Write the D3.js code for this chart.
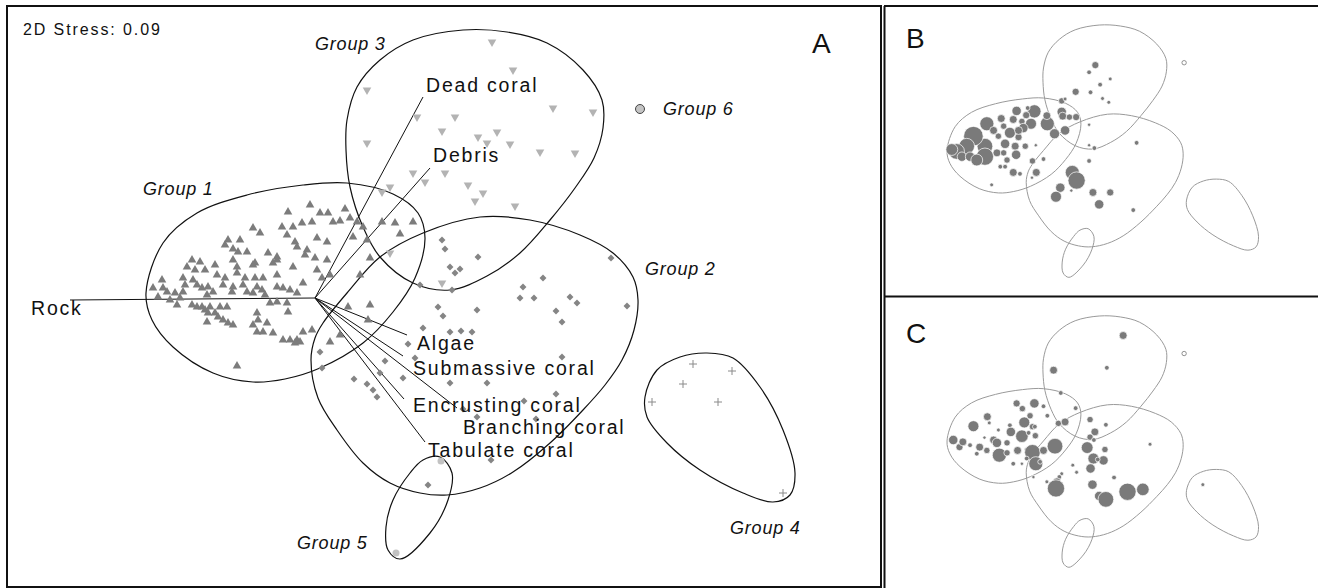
<!DOCTYPE html>
<html>
<head>
<meta charset="utf-8">
<script src="https://cdn.jsdelivr.net/npm/d3@7"></script>
<style>
  body { margin: 0; background: #fff; }
  text { font-family: Arial, "Liberation Sans", sans-serif; }
</style>
</head>
<body>
<svg id="chart" width="1318" height="588"></svg>
<script>
// NMDS ordination, axis units x100, origin = centre of the vector plot

// Group 1 samples (triangles)
const group1 = [[-5,93],[-27,86],[5,85],[13,85],[30,89],[18,76],[25,77],[35,80],[42,76],[-13,75],[-3,76],[-33,71],[-22,71],[-62,70],[-55,65],[48,71],[67,76],[80,75],[98,76],[85,64],[-28,63],[2,60],[12,56],[-20,56],[-18,51],[-8,48],[-87,58],[-75,58],[-90,53],[-82,49],[-77,46],[-68,46],[-47,45],[-38,41],[-38,38],[0,40],[12,38],[38,61],[52,58],[55,40],[45,23],[-123,38],[-115,36],[-128,31],[-100,33],[-82,38],[-78,31],[-62,33],[-60,35],[-42,35],[-22,31],[-10,43],[2,28],[15,23],[-120,28],[-110,28],[-132,20],[-122,18],[-98,23],[-90,20],[-78,25],[-70,20],[-60,20],[-52,20],[-38,23],[-12,15],[7,20],[-153,18],[-162,10],[-152,10],[-148,6],[-140,5],[-132,6],[-130,13],[-118,13],[-113,10],[-107,11],[-102,6],[-92,13],[-82,11],[-72,13],[-58,11],[-53,8],[-38,11],[-32,10],[-25,8],[-18,5],[-145,-2],[-138,-7],[-135,0],[-157,1],[-108,3],[-83,6],[-68,6],[-62,5],[-50,3],[-123,-7],[-118,-9],[-113,-9],[-110,-12],[-105,-9],[-95,-9],[-88,-9],[-45,-5],[-38,-4],[-28,-5],[-27,-14],[-107,-15],[-100,-15],[-97,-19],[-58,-15],[-57,-22],[-48,-25],[-108,-24],[-92,-22],[-87,-25],[-82,-27],[-62,-27],[-58,-34],[-52,-34],[-42,-35],[-12,-34],[-32,-42],[-25,-42],[-18,-42],[-15,-44],[-20,-45],[-3,-32],[-78,-68],[15,-44],[25,-37],[33,-9],[55,-7],[53,-22]];

// Group 2 samples (diamonds)
const group2 = [[127,58],[130,49],[163,41],[135,31],[140,25],[145,29],[105,13],[137,8],[208,11],[228,20],[205,0],[219,0],[255,1],[262,-5],[241,-13],[247,-24],[296,40],[312,-8],[123,-9],[128,-18],[162,-12],[108,-30],[135,-34],[146,-33],[157,-34],[93,-46],[70,-63],[100,-60],[247,-59],[88,-80],[135,-85],[172,-85],[241,-96],[5,-54],[7,-70],[39,-81],[52,-86],[58,-92],[62,-99],[65,-75],[209,-103],[148,-111],[162,-119],[221,-121],[176,-162],[113,-187]];

// Group 3 samples (inverted triangles)
const group3 = [[177,256],[198,228],[52,208],[102,181],[140,181],[238,190],[278,186],[127,167],[163,161],[182,166],[172,155],[195,154],[225,146],[260,145],[52,155],[98,125],[130,125],[110,116],[153,113],[168,105],[160,97],[200,92],[75,111],[67,106],[75,45],[127,15]];

// Group 4 (crosses), Group 5 (circles), Group 6 (single sample)
const group4 = [[378,-66],[417,-73],[368,-86],[337,-104],[403,-104],[468,-195]];
const group5 = [[126,-163],[81,-255]];
const group6 = [[325,189]];

// cluster contours
const contour1 = [[-169,5],[-163,-22],[-142,-49],[-102,-75],[-62,-84],[-30,-81],[5,-70],[48,-45],[78,-14],[100,20],[110,60],[103,85],[78,104],[32,115],[-12,113],[-68,103],[-118,85],[-152,55]];
const contour2 = [[165,81],[215,78],[265,63],[298,45],[318,21],[323,-2],[319,-32],[307,-62],[290,-87],[268,-112],[235,-145],[198,-174],[165,-190],[132,-197],[105,-195],[75,-185],[48,-165],[22,-132],[3,-100],[-4,-62],[0,-40],[8,-25],[32,5],[65,41],[108,65]];
const contour3 = [[148,268],[98,258],[65,238],[42,211],[32,178],[31,148],[35,111],[48,71],[65,41],[98,15],[135,8],[172,22],[205,45],[235,78],[260,110],[279,140],[288,170],[287,198],[268,228],[232,255],[192,266]];
const contour4 = [[392,-55],[418,-60],[445,-89],[468,-132],[480,-175],[475,-197],[458,-204],[428,-195],[385,-172],[352,-145],[332,-119],[330,-99],[342,-72],[365,-59]];
const contour5 = [[125,-159],[137,-175],[133,-202],[115,-235],[85,-261],[73,-252],[71,-229],[78,-202],[95,-175],[108,-162]];

// group label anchors
const groupLabels = ["Group 1", "Group 2", "Group 3", "Group 4", "Group 5", "Group 6"];
const groupLabelXY = [[-172,103],[330,23],[0,248],[415,-236],[-18,-251],[348,183]];

// substrate vectors
const vectorNames = ["Rock", "Dead coral", "Debris", "Algae", "Submassive coral", "Encrusting coral", "Branching coral", "Tabulate coral"];
const vectorXY = [[-245,-2],[108,201],[115,130],[92,-37],[88,-58],[89,-101],[142,-110],[110,-144]];

// bubble overlays: [x, y, % cover]
const bubblesB = [[140,184,14],[127,169,6],[171,155,4],[150,143,6],[99,128,14],[130,127,6],[155,114,4],[168,106,4],[70,109,11],[77,113,4],
  [13,87,48],[-1,94,6],[-24,88,24],[-4,79,14],[40,61,54],[6,61,33],[39,78,17],[70,86,24],[72,77,17],[86,75,11],[100,75,14],[55,40,28],[77,47,24],
  [-56,72,17],[-31,70,17],[-13,66,11],[-10,52,24],[-38,42,33],[-20,33,14],[-20,47,17],[-51,56,11],[-86,61,54],[-72,47,17],[-62,35,11],[-48,19,24],
  [-27,14,17],[-6,14,11],[-90,14,67],[-90,-8,81],[-114,35,104],[-128,14,67],[-149,3,67],[-159,7,38],[-138,-8,24],[-121,-8,24],[-107,-15,38],
  [-65,0,17],[-51,0,11],[-44,-15,11],[-25,-4,24],[-58,-29,6],[-48,-29,6],[-31,-41,17],[-17,-44,6],[-76,-67,4],[16,16,3],[9,-17,11],[32,-13,6],
  [17,-41,17],[8,-52,3],[127,59,3],[127,16,3],[138,10,6],[226,21,6],[127,-17,6],[92,-41,54],[101,-58,81],[90,-79,3],[67,-73,24],[58,-92,33],
  [135,-83,17],[171,-83,14],[148,-108,24],[219,-120,6]];
const bubblesC = [[198,227,17],[53,154,17],[164,159,6],[68,106,6],[99,74,6],
  [-24,84,14],[13,84,24],[-12,73,11],[32,78,6],[-85,56,17],[4,58,11],[40,58,6],[-81,43,4],[-114,36,33],[-8,44,33],[-38,38,6],[9,35,11],[14,35,6],
  [-62,28,4],[-36,24,24],[-13,15,43],[1,22,6],[15,16,11],[-91,12,3],[-72,7,17],[-65,1,24],[-44,1,11],[-156,7,24],[-143,-8,14],[-136,3,17],
  [-121,-4,6],[-101,-8,17],[-86,-15,11],[-107,-22,6],[-60,-25,54],[-44,-20,11],[-22,-15,17],[-3,-13,6],[9,-19,67],[32,-15,17],[56,-6,67],
  [-31,-43,6],[-13,-43,3],[-3,-32,6],[16,-43,54],[25,-39,6],[11,-71,3],
  [63,42,11],[77,45,17],[129,50,11],[162,39,6],[139,24,17],[129,13,11],[137,7,6],[123,-9,38],[160,-13,11],[136,-32,33],[157,-36,24],[145,-34,6],
  [130,-53,24],[93,-46,4],[101,-61,4],[70,-64,4],[65,-71,6],[39,-81,4],[60,-81,17],[58,-95,81],[134,-87,24],[148,-111,24],[162,-118,67],
  [207,-102,81],[239,-97,43],[179,-72,6],[254,-2,4],[364,-87,4]];

const svg = d3.select("#chart");
const contours = [contour1, contour2, contour3, contour4, contour5];
const shape = d3.line().curve(d3.curveCatmullRomClosed.alpha(0.5));

// panel A
const xA = d3.scaleLinear().domain([-308, 566]).range([7, 881]);
const yA = d3.scaleLinear().domain([292, -289]).range([6, 587]);

function drawContours(g, x, y, colour, width) {
  g.selectAll("path.contour")
    .data(contours)
    .join("path")
    .attr("class", "contour")
    .attr("d", c => shape(c.map(p => [x(p[0]), y(p[1])])))
    .attr("fill", "none")
    .attr("stroke", colour)
    .attr("stroke-width", width);
}

const gA = svg.append("g");
drawContours(gA, xA, yA, "#111", 1.2);

// vectors
const labelOffset = [[-39,15],[3,-5],[3,-6],[10,15],[10,19],[9,13],[6,26],[3,15]];
gA.selectAll("line.vec")
  .data(vectorXY)
  .join("line")
  .attr("class", "vec")
  .attr("x1", xA(0)).attr("y1", yA(0))
  .attr("x2", d => xA(d[0])).attr("y2", d => yA(d[1]))
  .attr("stroke", "#111").attr("stroke-width", 1);

// symbols
const tri = d3.symbol().type(d3.symbolTriangle).size(32);
gA.selectAll("path.g1").data(group1).join("path").attr("class", "g1")
  .attr("d", tri)
  .attr("transform", d => `translate(${xA(d[0])},${yA(d[1])})`)
  .attr("fill", "#7c7c7c");

gA.selectAll("path.g3").data(group3).join("path").attr("class", "g3")
  .attr("d", tri)
  .attr("transform", d => `translate(${xA(d[0])},${yA(d[1])}) rotate(180)`)
  .attr("fill", "#b3b3b3");

const dia = d3.symbol().type(d3.symbolSquare).size(24);
gA.selectAll("path.g2").data(group2).join("path").attr("class", "g2")
  .attr("d", dia)
  .attr("transform", d => `translate(${xA(d[0])},${yA(d[1])}) rotate(45)`)
  .attr("fill", "#858585");

gA.selectAll("path.g4").data(group4).join("path").attr("class", "g4")
  .attr("d", d => `M${xA(d[0]) - 4},${yA(d[1])}h8M${xA(d[0])},${yA(d[1]) - 4}v8`)
  .attr("stroke", "#8a8a8a").attr("stroke-width", 1);

gA.selectAll("circle.g5").data(group5).join("circle").attr("class", "g5")
  .attr("cx", d => xA(d[0])).attr("cy", d => yA(d[1])).attr("r", 3.5)
  .attr("fill", "#c2c2c2");

gA.selectAll("circle.g6").data(group6).join("circle").attr("class", "g6")
  .attr("cx", d => xA(d[0])).attr("cy", d => yA(d[1])).attr("r", 4.5)
  .attr("fill", "#c4c4c4").attr("stroke", "#444").attr("stroke-width", 1);

// texts
gA.selectAll("text.vlab")
  .data(vectorNames)
  .join("text")
  .attr("class", "vlab")
  .attr("x", (d, i) => xA(vectorXY[i][0]) + labelOffset[i][0])
  .attr("y", (d, i) => yA(vectorXY[i][1]) + labelOffset[i][1])
  .attr("font-size", 19.5)
  .style("letter-spacing", "1.8px")
  .attr("fill", "#111")
  .text(d => d);

gA.selectAll("text.glab")
  .data(groupLabels)
  .join("text")
  .attr("class", "glab")
  .attr("x", (d, i) => xA(groupLabelXY[i][0]))
  .attr("y", (d, i) => yA(groupLabelXY[i][1]))
  .attr("font-size", 18)
  .attr("font-style", "italic")
  .style("letter-spacing", "0.8px")
  .attr("fill", "#111")
  .text(d => d);

gA.append("text").attr("x", 23).attr("y", 35).attr("font-size", 16)
  .style("letter-spacing", "1.9px").attr("fill", "#111").text("2D Stress: 0.09");
gA.append("text").attr("x", 812).attr("y", 53).attr("font-size", 28)
  .attr("fill", "#111").text("A");

// bubble panels B and C
const rSize = d3.scaleSqrt().domain([0, 100]).range([0, 9.6]);
function bubblePanel(top, bottom, bubbles, letter, letterY) {
  const x = d3.scaleLinear().domain(xA.domain()).range([880.3, 1299.8]);
  const y = d3.scaleLinear().domain(yA.domain()).range([top, bottom]);
  const g = svg.append("g");
  drawContours(g, x, y, "#9a9a9a", 1);
  g.selectAll("circle.bub").data(bubbles).join("circle").attr("class", "bub")
    .attr("cx", d => x(d[0])).attr("cy", d => y(d[1])).attr("r", d => Math.max(1.6, rSize(d[2])))
    .attr("fill", "#7a7a7a").attr("stroke", "#fff").attr("stroke-width", 0.7);
  g.selectAll("circle.g6").data(group6).join("circle").attr("class", "g6")
    .attr("cx", d => x(d[0])).attr("cy", d => y(d[1])).attr("r", 2.2)
    .attr("fill", "#fff").attr("stroke", "#777").attr("stroke-width", 0.8);
  g.append("text").attr("x", 906).attr("y", letterY).attr("font-size", 28)
    .attr("fill", "#111").text(letter);
}
bubblePanel(13.6, 290.7, bubblesB, "B", 48);
bubblePanel(304.6, 580.6, bubblesC, "C", 343);

// frames
const frame = svg.append("g").attr("fill", "none").attr("stroke", "#111").attr("stroke-width", 2);
frame.append("rect").attr("x", 7).attr("y", 6).attr("width", 874).attr("height", 581);
frame.append("line").attr("x1", 884).attr("y1", 6).attr("x2", 1318).attr("y2", 6);
frame.append("line").attr("x1", 884.5).attr("y1", 6).attr("x2", 884.5).attr("y2", 588);
frame.append("line").attr("x1", 884).attr("y1", 296.5).attr("x2", 1318).attr("y2", 296.5);
</script>
</body>
</html>
